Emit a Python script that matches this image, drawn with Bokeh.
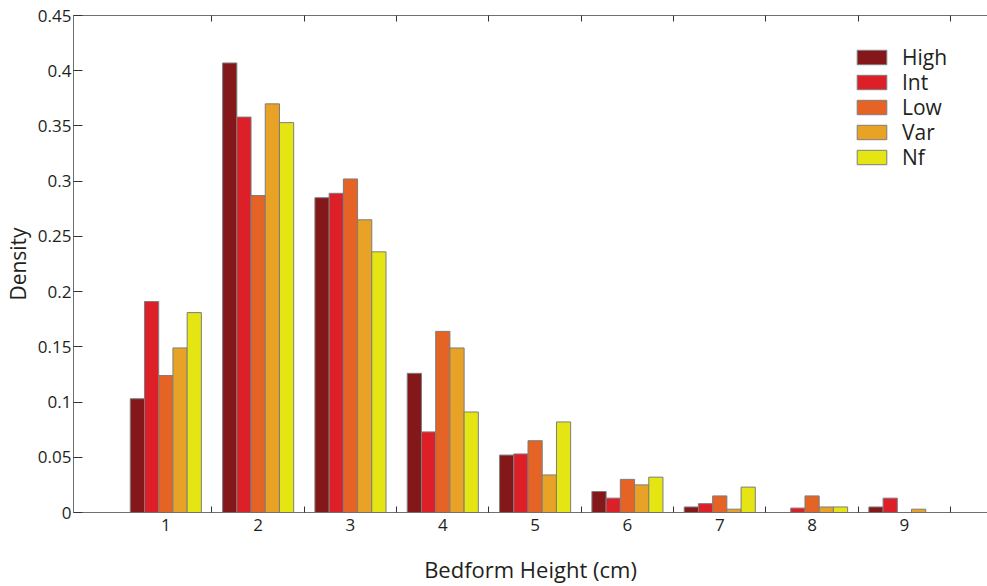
from bokeh.plotting import figure
from bokeh.models import (ColumnDataSource, Range1d, FixedTicker, LinearAxis,
                          CustomJSTickFormatter, Legend, LegendItem)
from bokeh.transform import dodge
from bokeh.embed import file_html
from bokeh.resources import INLINE

# ---- data ----
heights = [1, 2, 3, 4, 5, 6, 7, 8, 9]
series_names = ["High", "Int", "Low", "Var", "Nf"]
high = [0.103, 0.407, 0.285, 0.126, 0.052, 0.019, 0.005, 0.0, 0.005]
intm = [0.191, 0.358, 0.289, 0.073, 0.053, 0.013, 0.008, 0.004, 0.013]
low = [0.124, 0.287, 0.302, 0.164, 0.065, 0.030, 0.015, 0.015, 0.0]
var = [0.149, 0.370, 0.265, 0.149, 0.034, 0.025, 0.003, 0.005, 0.003]
nf = [0.181, 0.353, 0.236, 0.091, 0.082, 0.032, 0.023, 0.005, 0.0]
x_tick_labels = [1, 2, 3, 4, 5, 6, 7, 8, 9]
x_minor_ticks = [1.5, 2.5, 3.5, 4.5, 5.5, 6.5, 7.5, 8.5, 9.5]
y_ticks = [0, 0.05, 0.1, 0.15, 0.2, 0.25, 0.3, 0.35, 0.4, 0.45]

colors = ["#84171a", "#dd1f28", "#e46325", "#e8a225", "#e5e514"]
FONT = "Open Sans"
TXT = "#231f20"
AX = "#6f6f6f"

src = ColumnDataSource(dict(x=heights, High=high, Int=intm, Low=low, Var=var, Nf=nf))

p = figure(width=987, height=586, output_backend="svg", toolbar_location=None,
           x_range=Range1d(0, 9.9), y_range=Range1d(0, 0.45),
           min_border_left=73, min_border_top=15, min_border_right=0,
           min_border_bottom=74, x_axis_location="below")
p.outline_line_color = None
p.grid.visible = False
p.background_fill_color = "white"
p.border_fill_color = "white"

bw = 0.154
offsets = [-2 * bw, -bw, 0.0, bw, 2 * bw]
renderers = []
for name, col, off in zip(series_names, colors, offsets):
    r = p.vbar(x=dodge("x", off, range=p.x_range), top=name, width=bw, source=src,
               fill_color=col, line_color="#7d7d7d", line_width=1)
    renderers.append(r)

# bottom axis
xa = p.xaxis[0]
xa.ticker = FixedTicker(ticks=x_tick_labels, minor_ticks=x_minor_ticks)
xa.major_tick_in = 0
xa.major_tick_out = 0
xa.minor_tick_in = 6
xa.minor_tick_out = 0
xa.minor_tick_line_color = "#333333"
xa.axis_line_color = AX
xa.major_label_standoff = 6
xa.major_label_text_font = FONT
xa.major_label_text_font_size = "17px"
xa.major_label_text_color = TXT
xa.axis_label = "Bedform Height (cm)"
xa.axis_label_text_font = FONT
xa.axis_label_text_font_size = "22px"
xa.axis_label_text_font_style = "normal"
xa.axis_label_text_color = TXT
xa.axis_label_standoff = 20

# left axis
ya = p.yaxis[0]
ya.ticker = FixedTicker(ticks=y_ticks)
ya.formatter = CustomJSTickFormatter(code="return String(Math.round(tick*100)/100);")
ya.major_tick_in = 9
ya.major_tick_out = 0
ya.minor_tick_in = 0
ya.minor_tick_out = 0
ya.major_tick_line_color = "#333333"
ya.axis_line_color = AX
ya.major_label_standoff = 2
ya.major_label_text_font = FONT
ya.major_label_text_font_size = "17px"
ya.major_label_text_color = TXT
ya.axis_label = "Density"
ya.axis_label_text_font = FONT
ya.axis_label_text_font_size = "21px"
ya.axis_label_text_font_style = "normal"
ya.axis_label_text_color = TXT
ya.axis_label_standoff = 3

# top axis (ticks only, no labels)
ta = LinearAxis(ticker=FixedTicker(ticks=[], minor_ticks=x_minor_ticks),
                major_label_standoff=0,
                major_tick_in=0, major_tick_out=0, minor_tick_in=6, minor_tick_out=0,
                axis_line_color=AX, minor_tick_line_color="#333333")
p.add_layout(ta, "above")

# one legend entry per Legend so rows can sit 25px apart
for i, (n, r) in enumerate(zip(series_names, renderers)):
    lg = Legend(items=[LegendItem(label=n, renderers=[r])],
                location=(780, 441 - 25 * i), glyph_width=37, glyph_height=18,
                label_standoff=12, spacing=0, padding=0, margin=0,
                border_line_color=None, background_fill_alpha=0,
                label_text_font=FONT, label_text_font_size="21px",
                label_text_color=TXT, label_height=18)
    p.add_layout(lg, "center")

open("out.html", "w").write(file_html(p, INLINE))
